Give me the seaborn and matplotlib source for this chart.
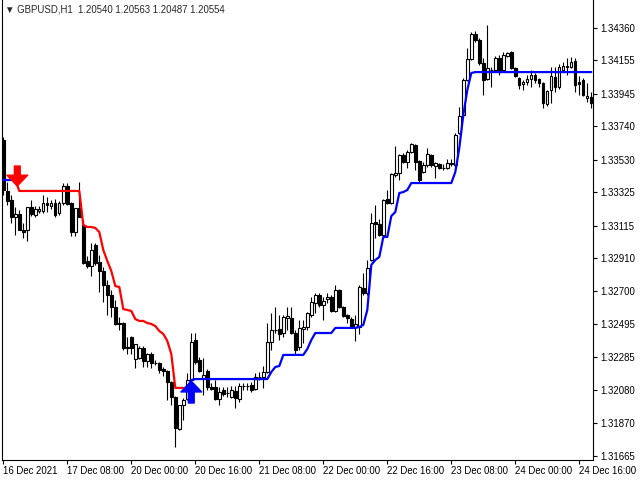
import numpy as np
import pandas as pd
import matplotlib
matplotlib.use("Agg")
import matplotlib.pyplot as plt
import seaborn as sns

# === DATA (GBPUSD H1) ===
opens = [
    1.33654, 1.33333, 1.33276, 1.33169, 1.33188, 1.33087, 1.33087, 1.33232, 1.33182, 1.33207,
    1.33207, 1.33257, 1.33238, 1.33257, 1.33194, 1.33257, 1.33364, 1.33257, 1.33074, 1.33226,
    1.33119, 1.32892, 1.32860, 1.32993, 1.32885, 1.32829, 1.32741, 1.32678, 1.32602, 1.32501,
    1.32501, 1.32344, 1.32413, 1.32274, 1.32281, 1.32344, 1.32262, 1.32306, 1.32249, 1.32249,
    1.32211, 1.32199, 1.32129, 1.32035, 1.31833, 1.31985, 1.32022, 1.32142, 1.32394, 1.32268,
    1.32154, 1.32199, 1.32098, 1.32098, 1.32022, 1.32079, 1.32060, 1.32035, 1.32073, 1.32022,
    1.32104, 1.32107, 1.32111, 1.32085, 1.32161, 1.32161, 1.32192, 1.32381, 1.32457, 1.32463,
    1.32438, 1.32533, 1.32533, 1.32438, 1.32350, 1.32463, 1.32476, 1.32552, 1.32627, 1.32678,
    1.32614, 1.32652, 1.32665, 1.32577, 1.32709, 1.32602, 1.32552, 1.32526, 1.32476, 1.32476,
    1.32722, 1.32690, 1.32898, 1.33137, 1.33125, 1.33056, 1.33282, 1.33257, 1.33434, 1.33446,
    1.33559, 1.33515, 1.33578, 1.33623, 1.33521, 1.33452, 1.33497, 1.33559, 1.33490, 1.33503,
    1.33478, 1.33478, 1.33503, 1.33497, 1.33698, 1.33812, 1.34032, 1.34164, 1.34322, 1.34284,
    1.34139, 1.34038, 1.34095, 1.34095, 1.34171, 1.34095, 1.34183, 1.34208, 1.34108, 1.34045,
    1.34007, 1.34019, 1.34038, 1.34064, 1.34038, 1.34013, 1.33881, 1.33969, 1.34051, 1.33988,
    1.34095, 1.34120, 1.34114, 1.34152, 1.34019, 1.34032, 1.33919, 1.33925,
]
highs = [
    1.33673, 1.33389, 1.33308, 1.33232, 1.33213, 1.33131, 1.33232, 1.33276, 1.33238, 1.33238,
    1.33308, 1.33295, 1.33276, 1.33282, 1.33270, 1.33383, 1.33383, 1.33263, 1.33226, 1.33389,
    1.33150, 1.32923, 1.33005, 1.33005, 1.32930, 1.32854, 1.32772, 1.32709, 1.32646, 1.32539,
    1.32507, 1.32413, 1.32420, 1.32369, 1.32356, 1.32356, 1.32312, 1.32318, 1.32268, 1.32255,
    1.32224, 1.32205, 1.32136, 1.32041, 1.31985, 1.32029, 1.32186, 1.32438, 1.32438, 1.32287,
    1.32281, 1.32211, 1.32123, 1.32142, 1.32098, 1.32098, 1.32098, 1.32104, 1.32104, 1.32123,
    1.32123, 1.32123, 1.32129, 1.32186, 1.32192, 1.32230, 1.32501, 1.32564, 1.32602, 1.32552,
    1.32552, 1.32602, 1.32602, 1.32457, 1.32520, 1.32520, 1.32570, 1.32665, 1.32690, 1.32690,
    1.32665, 1.32690, 1.32678, 1.32741, 1.32715, 1.32608, 1.32558, 1.32539, 1.32552, 1.32741,
    1.32816, 1.32898, 1.33194, 1.33245, 1.33156, 1.33282, 1.33339, 1.33446, 1.33616, 1.33566,
    1.33572, 1.33591, 1.33635, 1.33629, 1.33528, 1.33515, 1.33604, 1.33566, 1.33515, 1.33509,
    1.33503, 1.33534, 1.33534, 1.33698, 1.33862, 1.34045, 1.34234, 1.34334, 1.34341, 1.34297,
    1.34171, 1.34379, 1.34114, 1.34183, 1.34190, 1.34208, 1.34208, 1.34215, 1.34114, 1.34051,
    1.34032, 1.34064, 1.34095, 1.34076, 1.34045, 1.34019, 1.33969, 1.34114, 1.34114, 1.34133,
    1.34145, 1.34171, 1.34177, 1.34171, 1.34057, 1.34045, 1.34013, 1.33956,
]
lows = [
    1.33308, 1.33245, 1.33131, 1.33056, 1.33087, 1.33037, 1.33018, 1.33175, 1.33169, 1.33194,
    1.33194, 1.33200, 1.33219, 1.33169, 1.33182, 1.33245, 1.33245, 1.33049, 1.33049, 1.33169,
    1.32873, 1.32848, 1.32797, 1.32867, 1.32696, 1.32633, 1.32552, 1.32539, 1.32489, 1.32457,
    1.32331, 1.32307, 1.32307, 1.32218, 1.32274, 1.32224, 1.32224, 1.32218, 1.32237, 1.32186,
    1.32167, 1.32016, 1.31985, 1.31720, 1.31827, 1.31890, 1.32016, 1.32098, 1.32243, 1.32192,
    1.32047, 1.32079, 1.32079, 1.32016, 1.31985, 1.32041, 1.32035, 1.32029, 1.31966, 1.32003,
    1.32079, 1.32079, 1.32066, 1.32079, 1.32142, 1.32092, 1.32186, 1.32331, 1.32438, 1.32394,
    1.32413, 1.32457, 1.32432, 1.32306, 1.32331, 1.32375, 1.32457, 1.32539, 1.32564, 1.32602,
    1.32520, 1.32627, 1.32570, 1.32570, 1.32596, 1.32539, 1.32501, 1.32476, 1.32388, 1.32432,
    1.32678, 1.32678, 1.32892, 1.33037, 1.33049, 1.33049, 1.33251, 1.33251, 1.33421, 1.33402,
    1.33509, 1.33478, 1.33572, 1.33465, 1.33389, 1.33446, 1.33484, 1.33484, 1.33415, 1.33471,
    1.33465, 1.33471, 1.33490, 1.33484, 1.33692, 1.33799, 1.34026, 1.34158, 1.34271, 1.34127,
    1.33938, 1.34032, 1.33988, 1.34082, 1.34064, 1.34089, 1.34177, 1.34101, 1.34051, 1.33975,
    1.33969, 1.34001, 1.33988, 1.34013, 1.33988, 1.33856, 1.33868, 1.33887, 1.33956, 1.33975,
    1.34082, 1.34064, 1.34108, 1.33956, 1.33938, 1.33931, 1.33893, 1.33856,
]
closes = [
    1.33339, 1.33270, 1.33169, 1.33188, 1.33087, 1.33074, 1.33232, 1.33188, 1.33219, 1.33219,
    1.33257, 1.33245, 1.33257, 1.33182, 1.33257, 1.33364, 1.33251, 1.33074, 1.33226, 1.33169,
    1.32879, 1.32860, 1.32961, 1.32879, 1.32829, 1.32741, 1.32678, 1.32602, 1.32495, 1.32495,
    1.32344, 1.32350, 1.32344, 1.32369, 1.32344, 1.32262, 1.32306, 1.32249, 1.32246, 1.32205,
    1.32199, 1.32129, 1.32035, 1.31840, 1.31985, 1.32016, 1.32142, 1.32381, 1.32255, 1.32199,
    1.32173, 1.32098, 1.32085, 1.32022, 1.32066, 1.32054, 1.32058, 1.32079, 1.32029, 1.32104,
    1.32107, 1.32104, 1.32079, 1.32161, 1.32164, 1.32192, 1.32381, 1.32457, 1.32454, 1.32432,
    1.32539, 1.32545, 1.32438, 1.32331, 1.32470, 1.32476, 1.32564, 1.32633, 1.32678, 1.32614,
    1.32640, 1.32665, 1.32577, 1.32709, 1.32602, 1.32545, 1.32533, 1.32476, 1.32495, 1.32728,
    1.32690, 1.32848, 1.33131, 1.33125, 1.33056, 1.33276, 1.33257, 1.33440, 1.33446, 1.33559,
    1.33515, 1.33578, 1.33629, 1.33515, 1.33402, 1.33497, 1.33566, 1.33497, 1.33509, 1.33478,
    1.33475, 1.33509, 1.33506, 1.33686, 1.33805, 1.34032, 1.34164, 1.34322, 1.34284, 1.34139,
    1.34032, 1.34108, 1.34098, 1.34171, 1.34082, 1.34190, 1.34202, 1.34108, 1.34057, 1.34001,
    1.34019, 1.34038, 1.34064, 1.34032, 1.34013, 1.33887, 1.33963, 1.34057, 1.33988, 1.34114,
    1.34120, 1.34117, 1.34145, 1.34001, 1.34007, 1.33938, 1.33931, 1.33887,
]

# trend line (red = down trend, blue = up trend), NaN where not drawn
trend_down = ([np.nan] * 3 + [1.33402] + [1.33333] * 16 +
              [1.33119, 1.33106, 1.33106, 1.33100, 1.33074, 1.32961, 1.32892, 1.32829,
               1.32734, 1.32728, 1.32589, 1.32583, 1.32577, 1.32526, 1.32514, 1.32514,
               1.32501, 1.32495, 1.32482, 1.32451, 1.32432, 1.32388, 1.32306] +
              [1.32092] * 4 + [np.nan] * 101)
trend_up = ([1.33402] * 3 + [np.nan] * 43 + [1.32092, 1.32142] + [1.32148] * 19 +
            [1.32192, 1.32224, 1.32230] + [1.32300] * 6 + [1.32337, 1.32394] +
            [1.32438] * 5 + [1.32470] * 6 +
            [1.32476, 1.32489, 1.32583, 1.32867, 1.32898, 1.32917, 1.33043, 1.33043,
             1.33175, 1.33200, 1.33320, 1.33326, 1.33339] +
            [1.33383] * 11 + [1.33452, 1.33604, 1.33812, 1.33969, 1.34076] + [1.34082] * 30)

# signal arrows: bar, tail price, tip price
sell_bar, sell_tail, sell_tip = 3.5, 1.33490, 1.33364
buy_bar, buy_tail, buy_tip = 47, 1.31997, 1.32135

price_ticks = [1.34360, 1.34155, 1.33945, 1.33740, 1.33530, 1.33325, 1.33115,
               1.32910, 1.32700, 1.32495, 1.32285, 1.32080, 1.31870, 1.31665]
time_tick_bars = [0, 16, 32, 48, 64, 80, 96, 112, 128, 144]
time_tick_labels = ["16 Dec 2021", "17 Dec 08:00", "20 Dec 00:00", "20 Dec 16:00",
                    "21 Dec 08:00", "22 Dec 00:00", "22 Dec 16:00", "23 Dec 08:00",
                    "24 Dec 00:00", "24 Dec 16:00"]
header = "\u25bc GBPUSD,H1  1.20540 1.20563 1.20487 1.20554"

df = pd.DataFrame({"open": opens, "high": highs, "low": lows, "close": closes,
                   "down": trend_down, "up": trend_up})
df["bar"] = np.arange(len(df))

# === PLOT ===
sns.set_style("white")
plt.rcParams["font.family"] = ["Liberation Sans", "DejaVu Sans"]

fig = plt.figure(figsize=(6.4, 4.8), dpi=100)
ax = fig.add_axes([2 / 640, 20 / 480, 591 / 640, 460 / 480])

bull = df["close"] >= df["open"]
body_lo = np.minimum(df["open"], df["close"])
body_h = (df["close"] - df["open"]).abs()
ax.vlines(df["bar"], df["low"], df["high"], color="black", lw=0.8, zorder=1)
ax.bar(df["bar"], body_h, bottom=body_lo, width=0.6,
       color=np.where(bull, "white", "black"), edgecolor="black", lw=0.8, zorder=1.5)


def segments(col):
    s = df[col]
    ok = s.notna()
    grp = (~ok).cumsum()
    for _, seg in df[ok].groupby(grp[ok]):
        yield seg


for col, colour in [("down", "#ff0000"), ("up", "#0000ff")]:
    for seg in segments(col):
        sns.lineplot(data=seg, x="bar", y=col, color=colour, lw=1.6, ax=ax,
                     estimator=None, sort=False, zorder=3)

arrow_style = "simple,head_length=0.6,head_width=1.15,tail_width=0.32"
ax.annotate("", xy=(sell_bar, sell_tip), xytext=(sell_bar, sell_tail),
            arrowprops=dict(arrowstyle=arrow_style, color="#ff0000", mutation_scale=13,
                            shrinkA=0, shrinkB=0), zorder=4)
ax.annotate("", xy=(buy_bar, buy_tip), xytext=(buy_bar, buy_tail),
            arrowprops=dict(arrowstyle=arrow_style, color="#0000ff", mutation_scale=13,
                            shrinkA=0, shrinkB=0), zorder=4)

ax.set_xlim(-0.325, 147.425)
ax.set_ylim(1.31638, 1.34536)
ax.set_xlabel("")
ax.set_ylabel("")

ax.yaxis.tick_right()
ax.set_yticks(price_ticks)
ax.set_yticklabels([f"{p:.5f}" for p in price_ticks])
ax.set_xticks(time_tick_bars)
ax.set_xticklabels(time_tick_labels, ha="left")
ax.tick_params(axis="y", direction="out", length=3, width=0.8, pad=2,
               labelsize=6.9, colors="black", right=True, left=False)
ax.tick_params(axis="x", direction="out", length=3, width=0.8, pad=1,
               labelsize=6.9, colors="black", bottom=True)

for side in ["left", "right", "bottom"]:
    ax.spines[side].set_color("black")
    ax.spines[side].set_linewidth(0.8)
ax.spines["top"].set_visible(False)

fig.text(5 / 640, 1 - 10 / 480, header, fontsize=6.9, va="center", ha="left",
         bbox=dict(facecolor="white", edgecolor="none", pad=1.5))

fig.savefig("out.png", dpi=100)
